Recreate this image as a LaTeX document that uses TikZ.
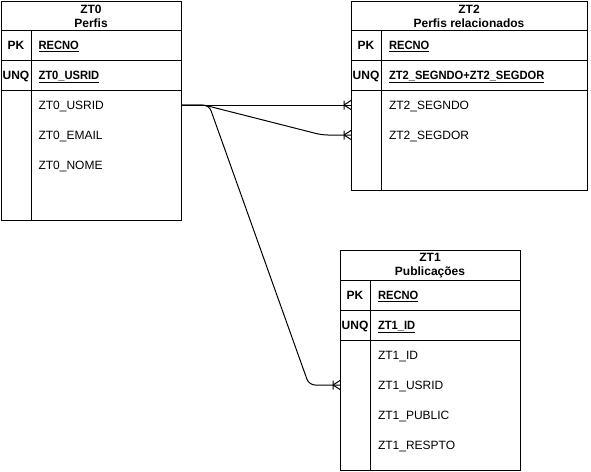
\documentclass[tikz,border=0pt]{standalone}
\usepackage{fontspec}
\setmainfont{Liberation Sans}
\newfontfamily\keyfont[FakeStretch=0.93]{Liberation Sans}
\usetikzlibrary{decorations.markings}
\begin{document}
\begin{tikzpicture}[x=1pt,y=-1pt,line width=1pt,
  every node/.style={font=\fontsize{12}{14}\selectfont},
  tbl/.style={draw=kLine,anchor=north west,inner sep=0pt},
  head/.style={align=center,inner sep=0pt,font=\fontsize{12}{14}\selectfont\bfseries},
  keycol/.style={inner sep=0pt,text height=8.6pt,text depth=0pt,font=\fontsize{12}{14}\selectfont\bfseries},
  keyname/.style={keycol,anchor=west,font=\keyfont\fontsize{12}{14}\selectfont\bfseries},
  attr/.style={anchor=west,inner sep=0pt,text height=8.6pt,text depth=0pt},
  rel/.style={color=kLine,rounded corners=6pt,postaction={decorate},
    decoration={markings,mark=at position 1 with {\draw[sharp corners] (-7,-4.5) -- (-7,4.5) (-7,0) -- (0,-4.5) (-7,0) -- (0,4.5);}}}]
  \definecolor{kLine}{rgb}{0,0,0}

  \fill[white] (0,0) rectangle (591,471);
  \useasboundingbox (0,0) rectangle (591,471);

  \node[tbl,minimum width=180,minimum height=219] (zt0) at (1,1) {};
  \node[head] (zt0head) at (91,16.2) {ZT0\\Perfis};
  \draw[color=kLine] (1,30) -- (181,30);
  \draw[color=kLine] (1,60) -- (181,60);
  \draw[color=kLine] (1,90) -- (181,90);
  \draw[color=kLine] (31,30) -- (31,220);
  \node[keycol] (zt0pk) at (16,45) {PK};
  \node[keycol] (zt0unq) at (16,75) {UNQ};
  \node[keyname] (zt0recno) at (38,45) {\underline{RECNO}};
  \node[keyname] (zt0key) at (38,75) {\underline{ZT0\_USRID}};
  \node[attr] (zt0usrid) at (38,105) {ZT0\_USRID};
  \node[attr] (zt0email) at (38,135) {ZT0\_EMAIL};
  \node[attr] (zt0nome) at (38,165) {ZT0\_NOME};

  \node[tbl,minimum width=236,minimum height=189] (zt2) at (351,1) {};
  \node[head] (zt2head) at (469,16.2) {ZT2\\Perfis relacionados};
  \draw[color=kLine] (351,30) -- (587,30);
  \draw[color=kLine] (351,60) -- (587,60);
  \draw[color=kLine] (351,90) -- (587,90);
  \draw[color=kLine] (381,30) -- (381,190);
  \node[keycol] (zt2pk) at (366,45) {PK};
  \node[keycol] (zt2unq) at (366,75) {UNQ};
  \node[keyname] (zt2recno) at (388.5,45) {\underline{RECNO}};
  \node[keyname] (zt2key) at (388.5,75) {\underline{ZT2\_SEGNDO+ZT2\_SEGDOR}};
  \node[attr] (zt2segndo) at (388.5,105) {ZT2\_SEGNDO};
  \node[attr] (zt2segdor) at (388.5,135) {ZT2\_SEGDOR};

  \node[tbl,minimum width=180,minimum height=220] (zt1) at (340,250) {};
  \node[head] (zt1head) at (430,266) {ZT1\\Publicações};
  \draw[color=kLine] (340,280) -- (520,280);
  \draw[color=kLine] (340,310) -- (520,310);
  \draw[color=kLine] (340,340) -- (520,340);
  \draw[color=kLine] (370,280) -- (370,470);
  \node[keycol] (zt1pk) at (355,295) {PK};
  \node[keycol] (zt1unq) at (355,325) {UNQ};
  \node[keyname] (zt1recno) at (377.5,295) {\underline{RECNO}};
  \node[keyname] (zt1key) at (377.5,325) {\underline{ZT1\_ID}};
  \node[attr] (zt1id) at (377.5,355) {ZT1\_ID};
  \node[attr] (zt1usrid) at (377.5,385) {ZT1\_USRID};
  \node[attr] (zt1public) at (377.5,415) {ZT1\_PUBLIC};
  \node[attr] (zt1respto) at (377.5,445) {ZT1\_RESPTO};

  \draw[rel] (zt0usrid -| zt0.east) -- (zt2segndo -| zt2.west);
  \draw[rel] (zt0usrid -| zt0.east) -- (204,105) -- (322,135) -- (zt2segdor -| zt2.west);
  \draw[rel] (zt0usrid -| zt0.east) -- (209,105) -- (309,385) -- (zt1usrid -| zt1.west);

\end{tikzpicture}
\end{document}
